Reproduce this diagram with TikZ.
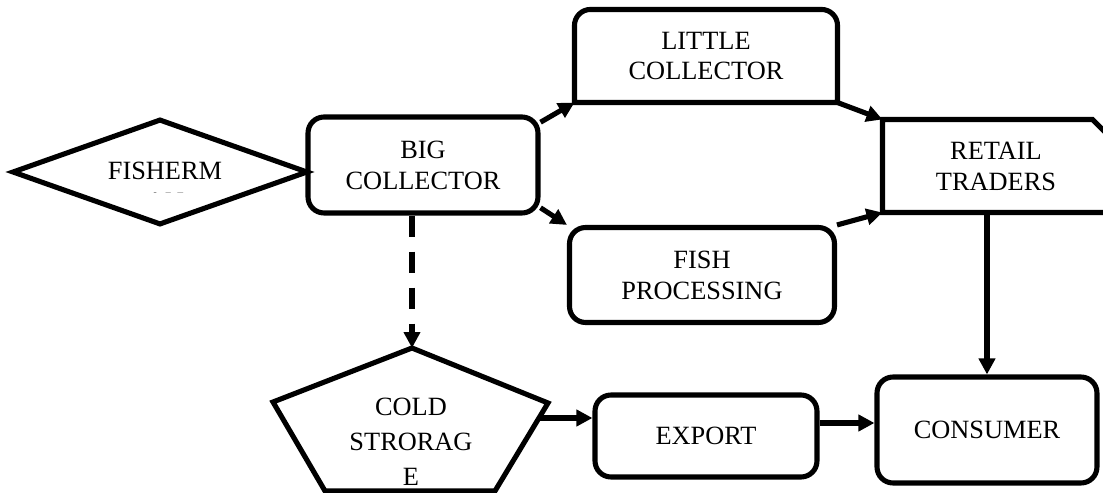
\documentclass[tikz,border=0pt]{standalone}
\usepackage{fontspec}
\setmainfont{Liberation Serif}
\usetikzlibrary{calc, arrows.meta, positioning, shapes.geometric}

\begin{document}
\begin{tikzpicture}[x=0.02cm, y=-0.02cm, line width=2.9pt, >={Triangle[length=0.32cm, width=0.32cm]}]
		\tikzstyle{box} = [draw=black, rectangle, rounded corners=0.32cm, align=center, font=\fontsize{15}{17.6}\selectfont]
		\tikzstyle{frame} = [draw=none, rectangle, align=center, font=\fontsize{15}{17.6}\selectfont]
		\tikzstyle{txt} = [draw=none, align=center, font=\fontsize{15}{17.6}\selectfont]
		
		\clip (0,0) rectangle (1103,493);
		
		\node[diamond, draw=black, minimum width=5.92cm, minimum height=2.12cm, inner sep=0pt] at (160,172) (fisher) {};
		\node[box, minimum width=4.6cm, minimum height=1.92cm]		at (423,165)	(big)		{BIG\\COLLECTOR};
		\node[frame, minimum width=5.16cm, minimum height=1.76cm]	at (706,56)		(little)	{LITTLE\\COLLECTOR};
		\node[box, minimum width=5.3cm, minimum height=1.9cm]		at (702,275)	(fish)		{FISH\\PROCESSING};
		\node[frame, minimum width=4.44cm, minimum height=1.76cm]	at (996,166)	(retail)	{RETAIL\\TRADERS};
		\node[box, minimum width=4.44cm, minimum height=1.64cm]		at (706,436)	(export)	{EXPORT};
		\node[box, minimum width=4.4cm, minimum height=2.12cm]		at (987,430)	(consumer)	{CONSUMER};
		
		% name under the diamond, second line cut off
		\begin{scope}
			\clip (20,120) rectangle (300,193);
			\node[txt] at (165,186) (fisher-txt) {FISHERM\\AN};
		\end{scope}
		
		% little collector: round top, square bottom
		\draw (little.south west) [rounded corners=0.32cm] -- (little.north west) -- (little.north east) [sharp corners] -- (little.south east) -- cycle;
		
		% retail traders: snipped corner
		\draw (retail.south west) -- (retail.north west) -- ($(retail.north east)+(-17,0)$) -- ($(retail.north east)+(0,17)$) -- (retail.south east) -- cycle;
		
		% cold storage pentagon
		\coordinate (cold-top)	at (412,348);
		\coordinate (cold-left)	at (273,402);
		\coordinate (cold-right) at (548,403);
		\coordinate (cold-br)	at (495,491);
		\coordinate (cold-bl)	at (325,491);
		\draw (cold-top) -- (cold-right) -- (cold-br) -- (cold-bl) -- (cold-left) -- cycle;
		\node[txt, font=\fontsize{15}{20}\selectfont] at (411,442) (cold) {COLD\\STRORAG\\E};
		
		\coordinate (cold-out)	at (539,418);
		\coordinate (export-out) at ($(export.east)+(0,-13)$);
		
		\path[->]
		(big.20)			edge	(little.south west)
		(big.-20)			edge	(fish.north west)
		(little.south east)	edge	(retail.north west)
		(fish.north east)	edge	(retail.south west)
		(retail.south -| consumer.north)	edge	(consumer.north)
		(cold-out)			edge	(cold-out -| export.west)
		(export-out)		edge	(export-out -| consumer.west);
		
		\draw[->, dash pattern=on 0.42cm off 0.3cm] (cold-top |- big.south) -- (cold-top);
		\end{tikzpicture}
\end{document}
